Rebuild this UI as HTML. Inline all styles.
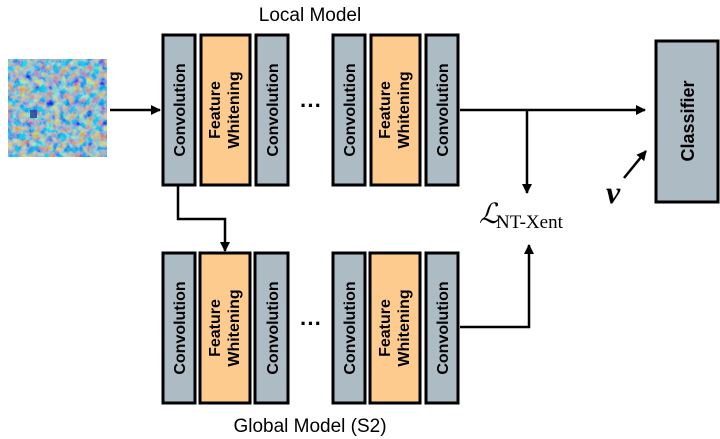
<!DOCTYPE html>
<html><head><meta charset="utf-8"><style>
html,body{margin:0;padding:0;background:#fff;}
svg{display:block;}
.s{font-family:"Liberation Sans",Arial,sans-serif;}
.b{font-family:"Liberation Sans",Arial,sans-serif;font-weight:bold;font-size:16px;}
.r{font-family:"Liberation Serif",serif;}
</style></head><body>
<svg width="720" height="439" viewBox="0 0 720 439" xmlns="http://www.w3.org/2000/svg">
<defs>
<filter id="noise" x="0" y="0" width="100%" height="100%">
<feTurbulence type="fractalNoise" baseFrequency="0.15" numOctaves="3" seed="7" result="t"/>
<feColorMatrix in="t" type="matrix" values="3 0 0 0 -1.1  0.4 1.6 0 0 -0.4  -2.6 0 0.6 0 1.7  0 0 0 0 1"/>
</filter>
<marker id="ah" markerWidth="10" markerHeight="10" refX="9" refY="5" orient="auto" markerUnits="userSpaceOnUse">
<path d="M0,0 L10,5 L0,10 z" fill="#000"/>
</marker>
</defs>
<rect x="8" y="59" width="99" height="98" fill="#6f8cb8"/>
<rect x="8" y="59" width="99" height="98" filter="url(#noise)" opacity="0.7"/>
<rect x="30" y="110" width="7" height="8" fill="#1d3f9a" opacity="0.8"/>

<text class="s" x="310" y="21" font-size="19" text-anchor="middle">Local Model</text>
<text class="s" x="310" y="432" font-size="19" text-anchor="middle">Global Model (S2)</text>

<g stroke="#000" stroke-width="3">
<rect x="163" y="35" width="32" height="150" fill="#adbbc4"/>
<rect x="201" y="35" width="49" height="150" fill="#fdcb8e"/>
<rect x="256" y="35" width="32" height="150" fill="#adbbc4"/>
<rect x="333" y="35" width="32" height="150" fill="#adbbc4"/>
<rect x="371" y="35" width="49" height="150" fill="#fdcb8e"/>
<rect x="426" y="35" width="32" height="150" fill="#adbbc4"/>
<rect x="163" y="253" width="32" height="150" fill="#adbbc4"/>
<rect x="200" y="253" width="50" height="150" fill="#fdcb8e"/>
<rect x="255" y="253" width="33" height="150" fill="#adbbc4"/>
<rect x="333" y="253" width="32" height="150" fill="#adbbc4"/>
<rect x="370" y="253" width="50" height="150" fill="#fdcb8e"/>
<rect x="426" y="253" width="32" height="150" fill="#adbbc4"/>
<rect x="656" y="41" width="62" height="161" fill="#adbbc4"/>
</g>

<g class="b">
<text transform="translate(185,110) rotate(-90)" text-anchor="middle">Convolution</text>
<text transform="translate(278,110) rotate(-90)" text-anchor="middle">Convolution</text>
<text transform="translate(355,110) rotate(-90)" text-anchor="middle">Convolution</text>
<text transform="translate(448,110) rotate(-90)" text-anchor="middle">Convolution</text>
<text transform="translate(220,110) rotate(-90)" text-anchor="middle">Feature</text>
<text transform="translate(239,110) rotate(-90)" text-anchor="middle">Whitening</text>
<text transform="translate(390,110) rotate(-90)" text-anchor="middle">Feature</text>
<text transform="translate(409,110) rotate(-90)" text-anchor="middle">Whitening</text>

<text transform="translate(185,328) rotate(-90)" text-anchor="middle">Convolution</text>
<text transform="translate(278,328) rotate(-90)" text-anchor="middle">Convolution</text>
<text transform="translate(355,328) rotate(-90)" text-anchor="middle">Convolution</text>
<text transform="translate(448,328) rotate(-90)" text-anchor="middle">Convolution</text>
<text transform="translate(220,328) rotate(-90)" text-anchor="middle">Feature</text>
<text transform="translate(239,328) rotate(-90)" text-anchor="middle">Whitening</text>
<text transform="translate(390,328) rotate(-90)" text-anchor="middle">Feature</text>
<text transform="translate(409,328) rotate(-90)" text-anchor="middle">Whitening</text>

<text transform="translate(694,121) rotate(-90)" text-anchor="middle" font-size="18">Classifier</text>
</g>

<text class="s" x="311" y="113" font-size="22" font-weight="bold" text-anchor="middle">···</text>
<text class="s" x="311" y="331" font-size="22" font-weight="bold" text-anchor="middle">···</text>

<g stroke="#000" stroke-width="2.5" fill="none">
<line x1="110" y1="110" x2="160" y2="110" marker-end="url(#ah)"/>
<line x1="460" y1="110" x2="645" y2="110" marker-end="url(#ah)"/>
<line x1="527" y1="110" x2="527" y2="193" marker-end="url(#ah)"/>
<polyline points="178,186 178,219 225,219 225,251" marker-end="url(#ah)"/>
<polyline points="460,327 529,327 529,245" marker-end="url(#ah)"/>
<line x1="624" y1="178" x2="646" y2="151" marker-end="url(#ah)"/>
</g>

<text class="r" x="479" y="223" font-size="28" font-style="italic">ℒ</text>
<text class="r" x="496" y="228" font-size="19">NT-Xent</text>
<text class="r" x="606" y="203" font-size="32" font-style="italic" font-weight="bold">v</text>
</svg>
</body></html>
